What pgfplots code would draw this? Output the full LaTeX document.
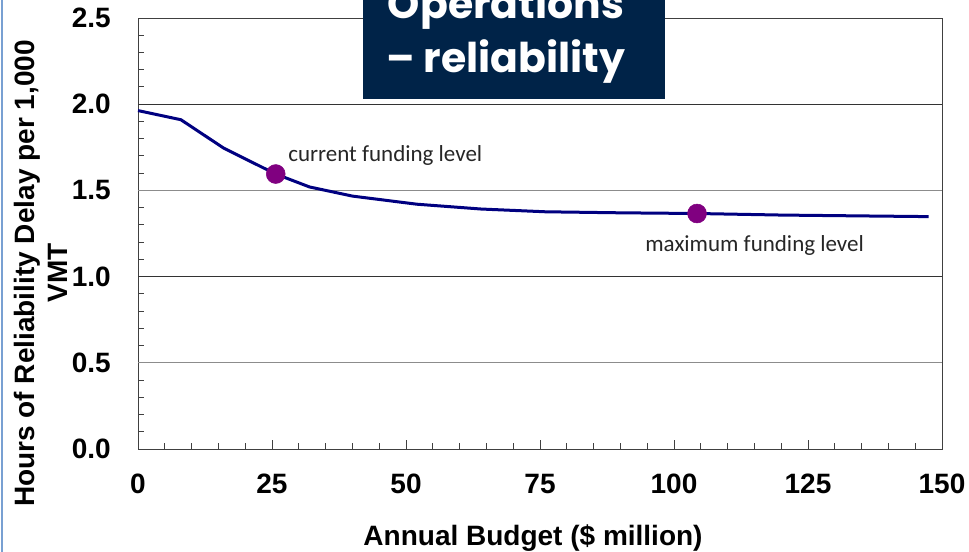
\documentclass[border=0pt]{standalone}
\usepackage{pgfplots}
\pgfplotsset{compat=1.18}
\usepackage{fontspec}
\setmainfont{Liberation Sans}
\newfontfamily\calib{Carlito}
\newfontfamily\titlef{Poppins}
\definecolor{navyline}{RGB}{0,0,128}
\definecolor{mkpurple}{RGB}{128,0,128}
\definecolor{boxblue}{RGB}{0,35,72}
\definecolor{slideblue}{RGB}{120,160,210}
\begin{document}
\begin{tikzpicture}
\useasboundingbox (-103.5pt,-76.5pt) rectangle (623.25pt,336.75pt);
\clip (-103.5pt,-76.5pt) rectangle (623.25pt,336.75pt);
\draw[color=slideblue, line width=1.5pt] (-102pt,-80pt) -- (-102pt,340pt);
\begin{axis}[
  at={(0pt,0pt)}, anchor=south west,
  scale only axis, width=603pt, height=323.25pt,
  xmin=0, xmax=150, ymin=0, ymax=2.5,
  xtick={0,25,...,150}, ytick={0,0.5,...,2.5},
  minor x tick num=4, minor y tick num=4,
  tick align=inside, tick pos=left,
  major tick length=6.75pt, minor tick length=4.5pt,
  every tick/.style={color=black!75, line width=0.75pt},
  axis line style={draw=black!75, line width=0.75pt},
  ticklabel style={font=\fontsize{21}{25}\selectfont\bfseries},
  /pgf/number format/assume math mode=true,
  yticklabel style={/pgf/number format/fixed, /pgf/number format/fixed zerofill, /pgf/number format/precision=1, anchor=east, inner sep=0pt, xshift=-20.25pt},
  xticklabel style={anchor=north, inner sep=0pt, yshift=-18.75pt},
  clip=false,
]
\draw[black!80, line width=0.75pt] (axis cs:0,1) -- (axis cs:150,1);
\draw[black!80, line width=0.75pt] (axis cs:0,2) -- (axis cs:150,2);
\draw[black!45, line width=0.9pt] (axis cs:0,0.5) -- (axis cs:150,0.5);
\draw[black!45, line width=0.9pt] (axis cs:0,1.5) -- (axis cs:150,1.5);
\addplot[navyline, line width=2.25pt, no marks] coordinates {
(0,1.963) (8,1.910) (16,1.745) (25.7,1.595) (32,1.520) (40,1.467) (52,1.420)
(64,1.392) (76,1.376) (90,1.370) (104.3,1.366) (120,1.357) (135,1.352) (147.5,1.348)
};
\addplot[only marks, mark=*, mark size=7.1pt, mark options={fill=mkpurple, draw=mkpurple}] coordinates {
(25.7,1.595) (104.3,1.366)
};
\node[anchor=base west, inner sep=0pt, text=black!85, font=\calib\fontsize{17.25}{20}\selectfont] at (axis cs:28.0,1.665) {current funding level};
\node[anchor=base west, inner sep=0pt, text=black!85, font=\calib\fontsize{17.25}{20}\selectfont] at (axis cs:94.6,1.143) {maximum funding level};
\end{axis}
\fill[boxblue] (168.75pt,262.5pt) rectangle (395.25pt,345pt);
\node[anchor=base, text=white, inner sep=0pt, font=\titlef\bfseries\fontsize{30.75}{36}\selectfont] at (276pt,282.75pt) {– reliability};
\node[anchor=base, text=white, inner sep=0pt, font=\titlef\bfseries\fontsize{30.75}{36}\selectfont] at (276pt,323.25pt) {Operations};
\node[anchor=base, inner sep=0pt, font=\fontsize{21}{25}\selectfont\bfseries] at (296.25pt,-72pt) {Annual Budget (\$ million)};
\node[anchor=base, rotate=90, inner sep=0pt, font=\fontsize{21}{25}\selectfont\bfseries] at (-77.25pt,131.6pt) {Hours of Reliability Delay per 1,000};
\node[anchor=base, rotate=90, inner sep=0pt, font=\fontsize{21}{25}\selectfont\bfseries] at (-52.5pt,132pt) {VMT};
\end{tikzpicture}
\end{document}
